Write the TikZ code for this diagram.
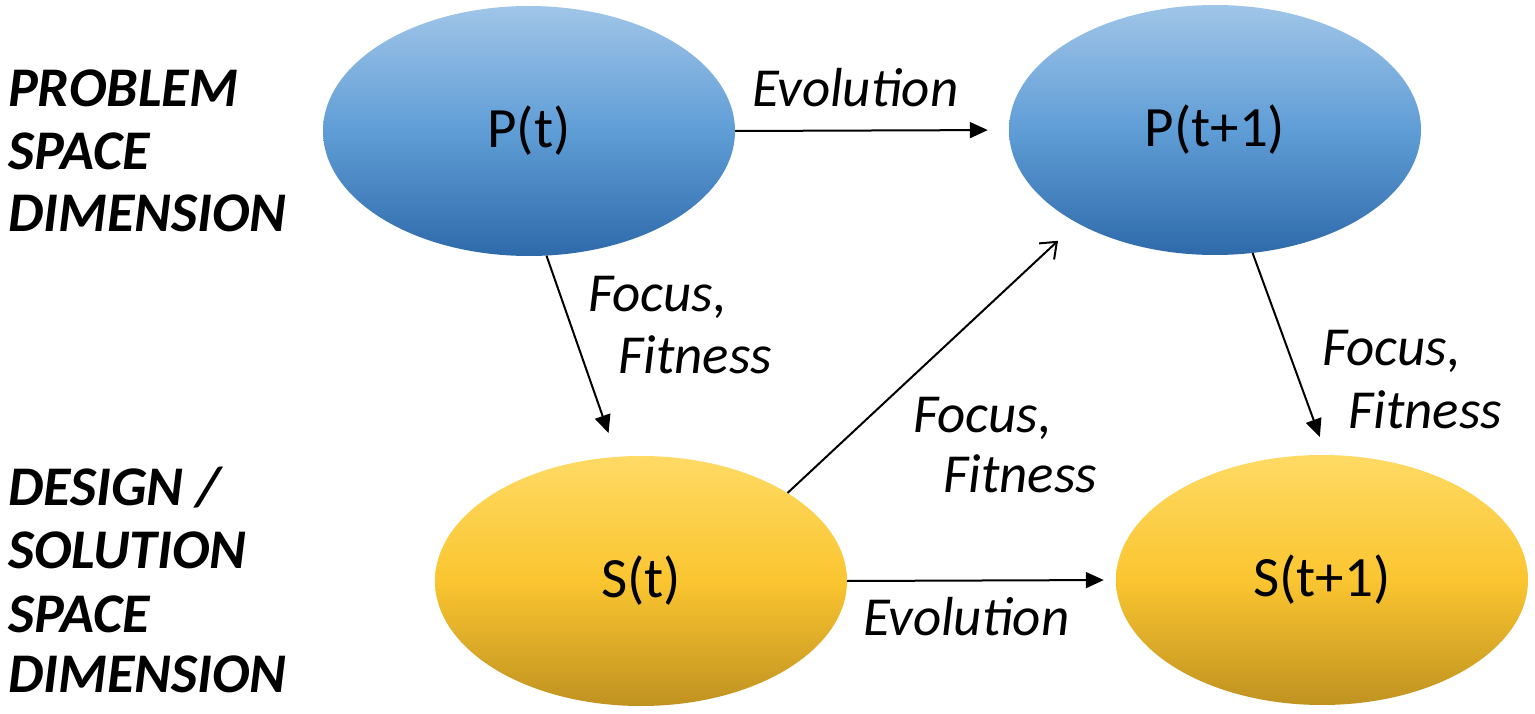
\documentclass[tikz,border=0pt]{standalone}
\usepackage{fontspec}
\setmainfont{Carlito}
\usetikzlibrary{shapes.geometric,arrows.meta}
\definecolor{bluetop}{RGB}{160,197,232}
\definecolor{bluemid}{RGB}{95,157,214}
\definecolor{bluebot}{RGB}{46,106,170}
\definecolor{yeltop}{RGB}{255,218,100}
\definecolor{yelmid}{RGB}{250,197,48}
\definecolor{yelbot}{RGB}{192,146,32}
\begin{document}
\begin{tikzpicture}[x=1pt,y=-1pt,
  state/.style={ellipse, minimum width=412pt, minimum height=250pt, inner sep=0pt, font=\fontsize{57}{60}\selectfont},
  probl/.style={state, top color=bluetop, bottom color=bluebot, middle color=bluemid},
  solut/.style={state, top color=yeltop, bottom color=yelbot, middle color=yelmid},
  lbl/.style={anchor=base west, inner sep=0pt, font=\fontsize{55}{60}\selectfont\itshape},
  dimlbl/.style={anchor=base west, inner sep=0pt, font=\fontsize{56}{62}\selectfont\bfseries\itshape},
  link/.style={line width=2pt, -{Triangle[length=18pt,width=16pt]}},
  openlink/.style={line width=2pt, -{Straight Barb[length=14pt,width=22pt]}}]
\useasboundingbox (0,0) rectangle (1535,714);
\fill[white] (0,0) rectangle (1535,714);

\node[probl] (pt) at (529,131) {P(t)};
\node[probl] (pt1) at (1215,130) {P(t+1)};
\node[solut] (st) at (641,581) {S(t)};
\node[solut] (st1) at (1322,580) {S(t+1)};

\draw[link, shorten >=21pt] (pt.east) -- (pt1.west);
\draw[link, shorten >=25pt] (pt.-82) -- (st.101);
\draw[openlink, shorten >=26pt] (st.31) -- (pt1.-146);
\draw[link, shorten >=19pt] (pt1.-73) -- (st1.88);
\draw[link, shorten >=12pt] (st.east) -- (st1.west);

\node[lbl] (evo1) at (752,107) {Evolution};
\node[lbl] (evo2) at (863,635) {Evolution};
\node[lbl] (ff1a) at (588,312) {Focus,};
\node[lbl] (ff1b) at (618,373) {Fitness};
\node[lbl] (ff2a) at (913,432) {Focus,};
\node[lbl] (ff2b) at (943,492) {Fitness};
\node[lbl] (ff3a) at (1322,365) {Focus,};
\node[lbl] (ff3b) at (1348,428) {Fitness};

\node[dimlbl] (d1) at (8,107) {PROBLEM};
\node[dimlbl] (d2) at (8,170) {SPACE};
\node[dimlbl] (d3) at (8,232) {DIMENSION};
\node[dimlbl] (d4) at (8,505) {DESIGN /};
\node[dimlbl] (d5) at (8,568) {SOLUTION};
\node[dimlbl] (d6) at (8,632) {SPACE};
\node[dimlbl] (d7) at (8,692) {DIMENSION};
\end{tikzpicture}
\end{document}
